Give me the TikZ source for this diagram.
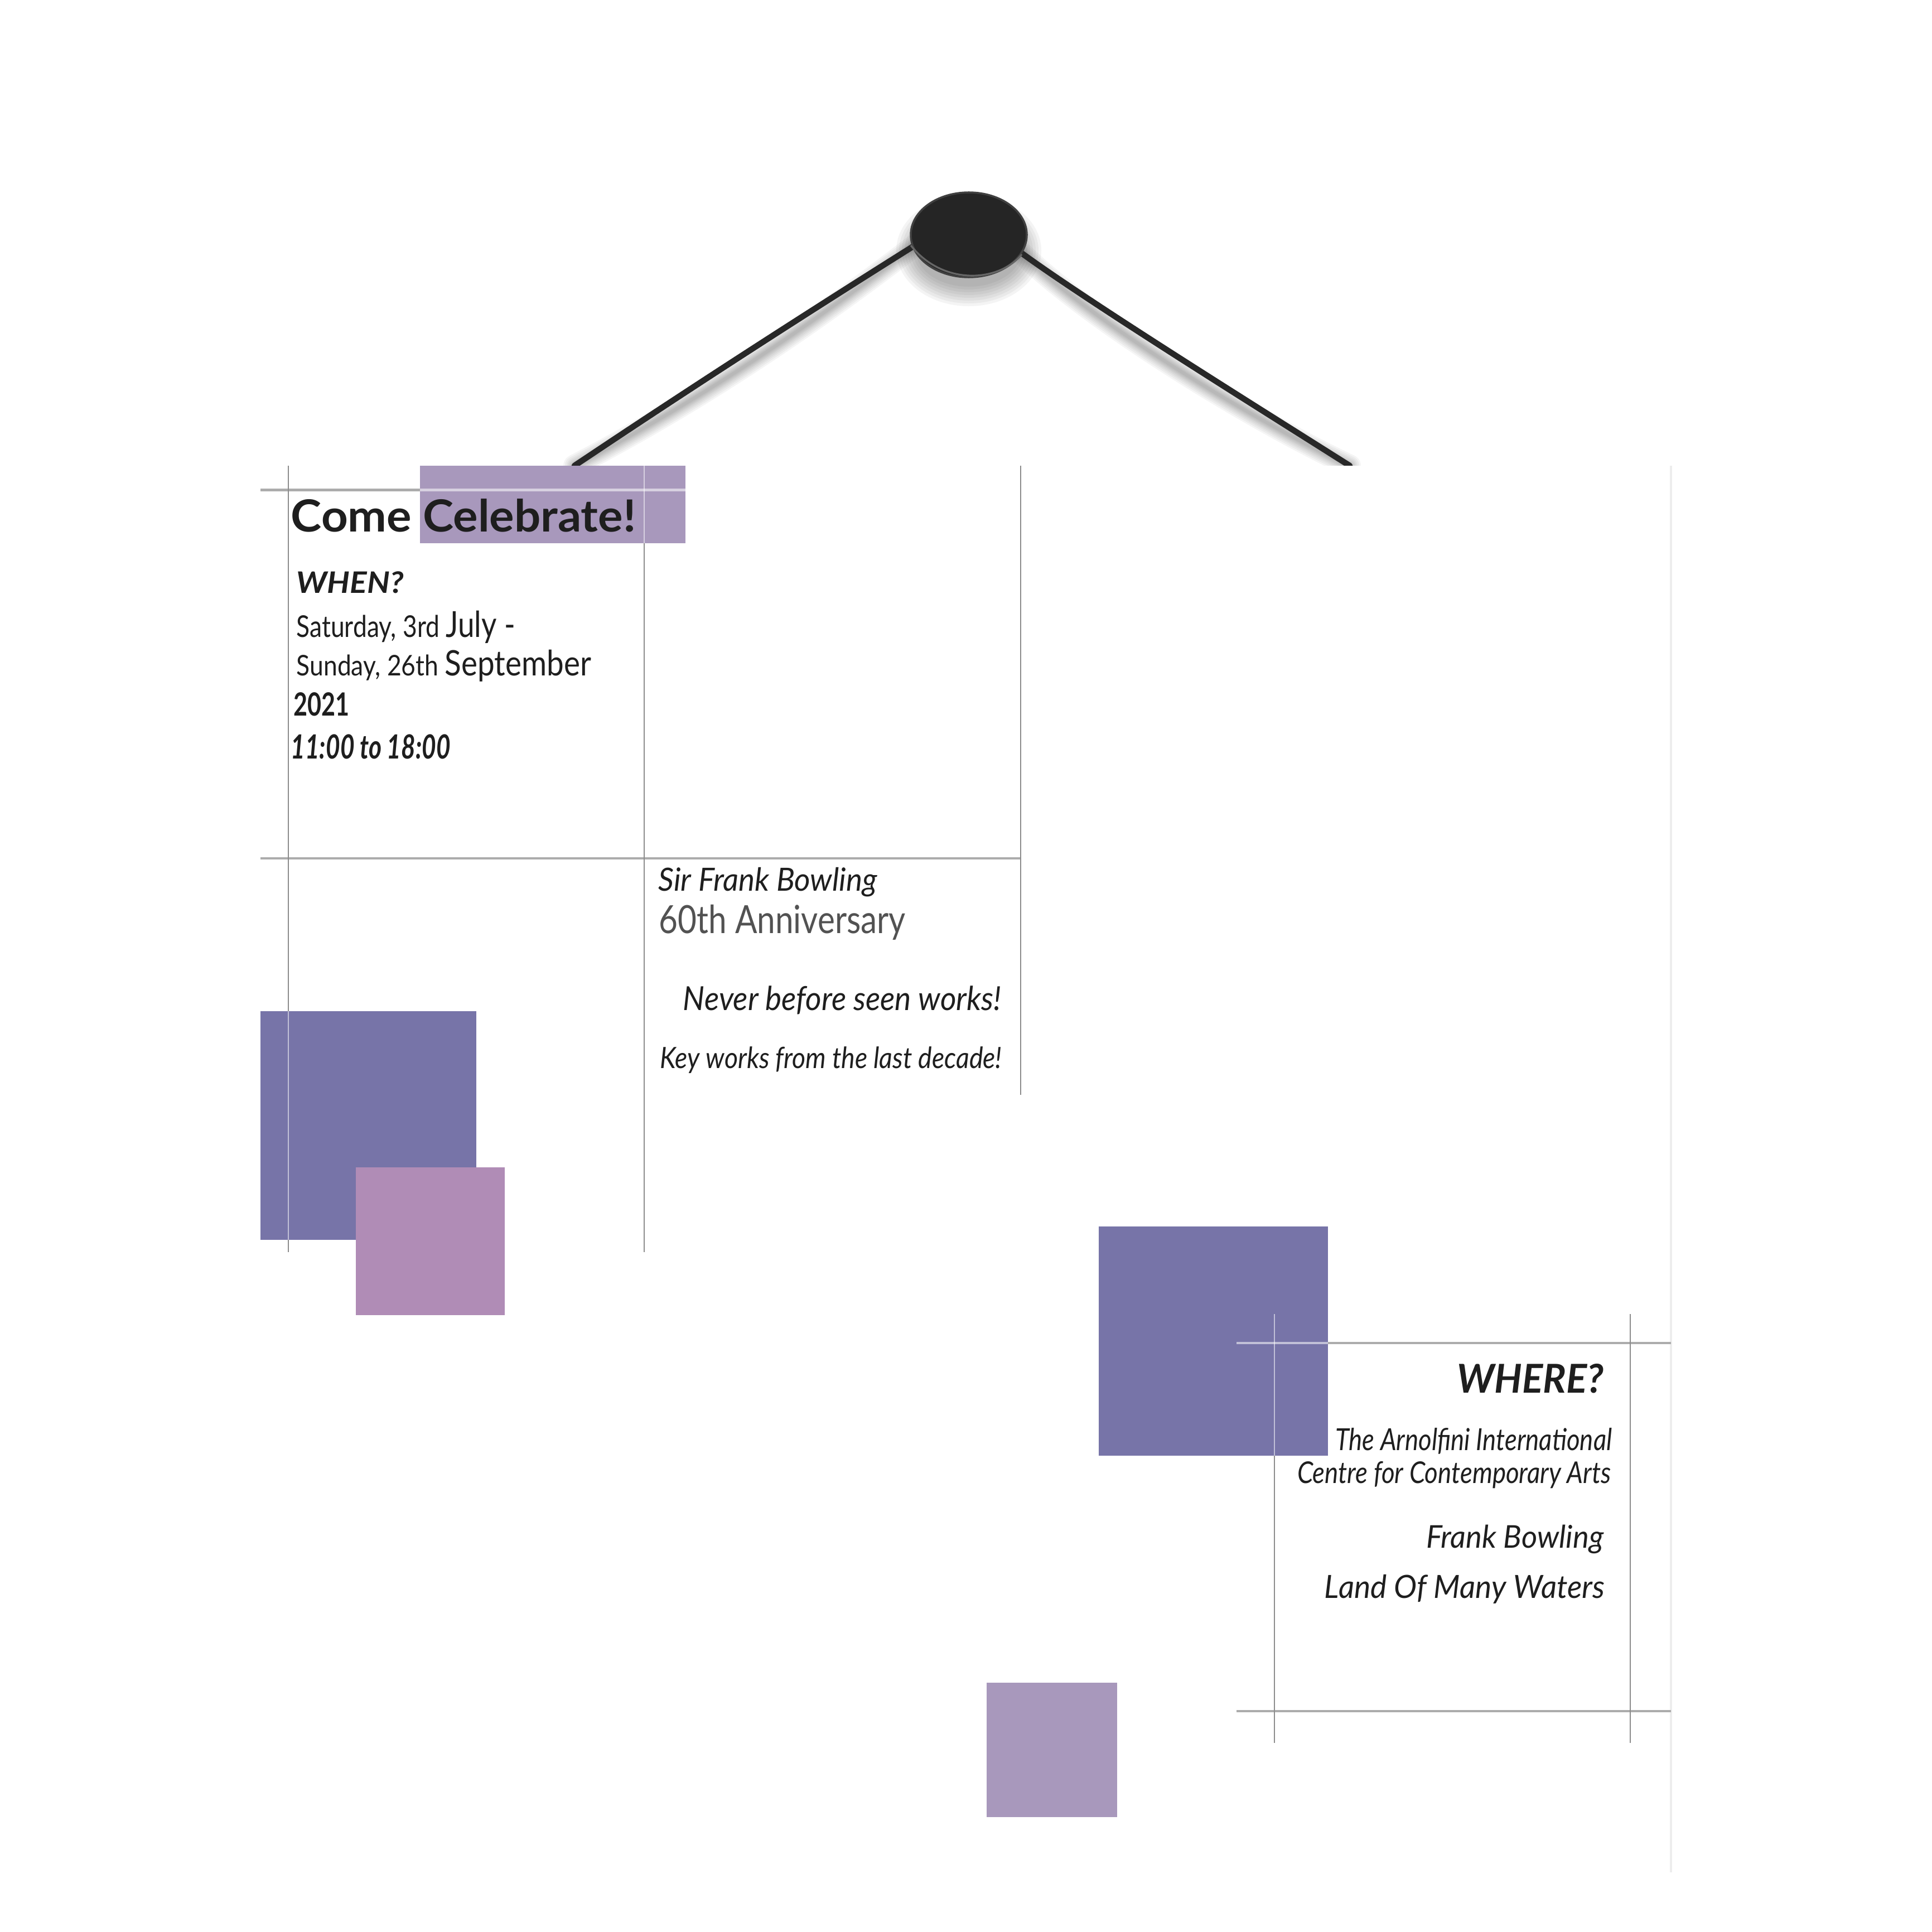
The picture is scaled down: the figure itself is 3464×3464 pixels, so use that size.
\documentclass[tikz,border=0pt]{standalone}
\usepackage{fontspec}
\setmainfont{Lato}
\usepackage{graphicx}
\definecolor{darkpurple}{RGB}{119,116,168}
\definecolor{pinkpurple}{RGB}{176,140,182}
\definecolor{lavender}{RGB}{168,152,188}
\definecolor{vline}{RGB}{140,140,140}
\definecolor{hline}{RGB}{172,172,172}
\definecolor{ink}{RGB}{30,30,30}
\definecolor{cord}{RGB}{40,40,40}
\definecolor{knob}{RGB}{37,37,37}
\newcommand{\fw}[2]{\resizebox{#1}{\height}{#2}}
\newcommand{\fs}[1]{\fontsize{#1}{#1}\selectfont}
\tikzset{
  txt/.style={inner sep=0pt, text=ink},
  vgrid/.style={draw=vline, line width=0.7pt},
  hgrid/.style={draw=hline, line width=1.25pt},
  lightover/.style={draw=white, draw opacity=0.55, line width=0.7pt},
  cordline/.style={draw=cord, line width=3pt, line cap=round},
  shade/.style={draw=black, draw opacity=#1},
}
\begin{document}
\begin{tikzpicture}[x=0.01cm,y=-0.01cm]
\useasboundingbox (0,0) rectangle (3464,3464);

% hanger coordinates
\coordinate (lstart) at (1640,440);
\coordinate (lend) at (1030,835);
\coordinate (rstart) at (1832,454);
\coordinate (rend) at (2420,835);

% soft shadows of cords and knob
\begin{scope}[yshift=-0.3cm]
  \foreach \w in {40,34,28,23,18,14,10,6}{
    \draw[shade=0.04, line width=\w*0.2845pt, line cap=round]
      (lstart) .. controls (1430,572) and (1227,703) .. (lend);
    \draw[shade=0.04, line width=\w*0.2845pt, line cap=round]
      (rstart) .. controls (1950,540) and (2230,715) .. (rend);
  }
\end{scope}
\begin{scope}[yshift=-0.28cm]
  \foreach \r in {30,25,20,15,10,5,0,-5}{
    \fill[black, fill opacity=0.045] (1737,421) ellipse ({100+\r} and {70+\r});
  }
\end{scope}

% cords
\draw[cordline] (lstart) .. controls (1430,572) and (1227,703) .. (lend);
\draw[cordline] (rstart) .. controls (1950,540) and (2230,715) .. (rend);

% knob
\fill[knob] (1737,421) ellipse (104 and 76);
\draw[draw=black!75, line width=1pt] (1737,421) ellipse (104 and 76);
\draw[draw=black!60, line width=0.9pt] (1633,440) .. controls (1690,512) and (1790,507) .. (1832,456);

% board
\fill[white] (400,835) rectangle (2996,3357);
\draw[draw=black!7, line width=1.1pt] (2996,835) -- (2996,3357);

% grid lines, upper-left panel
\draw[hgrid] (467,878.5) -- (1229,878.5);
\draw[hgrid] (467,1539) -- (1830,1539);
\draw[vgrid] (517,835) -- (517,2245);
\draw[vgrid] (1155,835) -- (1155,2245);
\draw[vgrid] (1830,835) -- (1830,1963);

% grid lines, lower-right panel
\draw[hgrid] (2217,2408) -- (2996,2408);
\draw[hgrid] (2217,3068) -- (2996,3068);
\draw[vgrid] (2285,2356) -- (2285,3125);
\draw[vgrid] (2923,2356) -- (2923,3125);

% coloured squares
\fill[lavender] (753,835) rectangle (1229,974);
\fill[darkpurple] (467,1812.5) rectangle (854,2223);
\fill[pinkpurple] (638,2093) rectangle (905,2358);
\fill[darkpurple] (1970,2199) rectangle (2381,2610);
\fill[lavender] (1769,3017) rectangle (2003,3258);

% light lines over the squares
\draw[lightover, line width=1.25pt] (753,878.5) -- (1229,878.5);
\draw[lightover] (1155,835) -- (1155,974);
\draw[lightover] (517,1812.5) -- (517,2223);
\draw[lightover, line width=1.25pt] (2217,2408) -- (2381,2408);
\draw[lightover] (2285,2356) -- (2285,2610);

% texts, upper-left panel
\node[txt, anchor=base west, font=\fs{22.6}\bfseries] (come) at (521,953) {\fw{6.18cm}{Come Celebrate!}};
\node[txt, anchor=base west, font=\fs{15.1}\bfseries\itshape] (when) at (531,1063) {\fw{1.92cm}{WHEN?}};
\node[txt, anchor=base west] (sat) at (531,1142.6) {\fw{3.92cm}{{\fs{15.3}Saturday, 3rd }{\fs{18.3}July -}}};
\node[txt, anchor=base west] (sun) at (531,1211.5) {\fw{5.28cm}{{\fs{14.5}Sunday, 26th }{\fs{17.9}September}}};
\node[txt, anchor=base west, font=\fs{16.3}\bfseries] (year) at (526,1283) {\fw{1.0cm}{2021}};
\node[txt, anchor=base west, font=\fs{17}\bfseries\itshape] (time) at (521,1360) {\fw{2.86cm}{11:00 to 18:00}};

% texts, middle panel
\node[txt, anchor=base west, font=\fs{16.3}\itshape] (sir) at (1180,1597) {\fw{3.92cm}{Sir Frank Bowling}};
\node[txt, anchor=base west, font=\fs{19.8}, text=black!68] (anniv) at (1181,1673) {\fw{4.42cm}{60th Anniversary}};
\node[txt, anchor=base east, font=\fs{16.9}\itshape] (never) at (1796,1811.5) {\fw{5.70cm}{Never before seen works!}};
\node[txt, anchor=base east, font=\fs{15}\itshape] (key) at (1797,1915) {\fw{6.12cm}{Key works from the last decade!}};

% texts, lower-right panel
\node[txt, anchor=base east, font=\fs{20.3}\bfseries\itshape] (where) at (2876,2497) {\fw{2.63cm}{WHERE?}};
\node[txt, anchor=base east, font=\fs{15.5}\itshape] (arn) at (2891,2600) {\fw{4.96cm}{The Arnolfini International}};
\node[txt, anchor=base east, font=\fs{15.3}\itshape] (centre) at (2889,2659.5) {\fw{5.62cm}{Centre for Contemporary Arts}};
\node[txt, anchor=base east, font=\fs{16}\itshape] (fb) at (2876,2775) {\fw{3.18cm}{Frank Bowling}};
\node[txt, anchor=base east, font=\fs{16.3}\itshape] (land) at (2878,2865) {\fw{5.02cm}{Land Of Many Waters}};
\end{tikzpicture}
\end{document}
